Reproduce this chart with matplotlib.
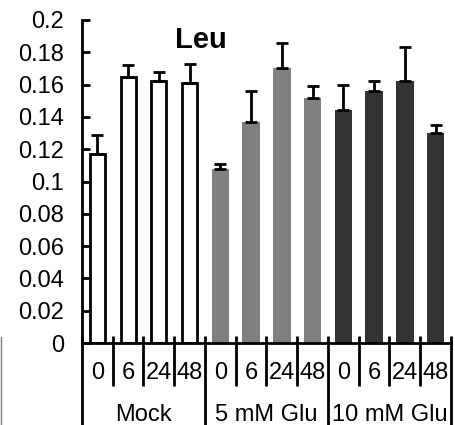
import matplotlib
matplotlib.use("Agg")
import matplotlib.pyplot as plt
from matplotlib.lines import Line2D

plt.rcParams['font.family'] = ['Liberation Sans', 'DejaVu Sans']

# Leu levels per treatment and time point (h)
groups = ['Mock', '5 mM Glu', '10 mM Glu']
hours = ['0', '6', '24', '48']
mock = [0.117, 0.165, 0.162, 0.161]
glu5 = [0.108, 0.137, 0.170, 0.152]
glu10 = [0.144, 0.156, 0.162, 0.130]
mock_err = [0.012, 0.007, 0.006, 0.012]
glu5_err = [0.003, 0.019, 0.016, 0.007]
glu10_err = [0.016, 0.006, 0.021, 0.005]
yticks = [0, 0.02, 0.04, 0.06, 0.08, 0.1, 0.12, 0.14, 0.16, 0.18, 0.2]

W, H = 456, 425
fig = plt.figure(figsize=(W / 100, H / 100), dpi=100)
ax = fig.add_axes([82 / W, (H - 343) / H, 369 / W, 323 / H])

series = [mock, glu5, glu10]
errs = [mock_err, glu5_err, glu10_err]
faces = ['white', '#808080', '#333333']
edges = ['black', 'none', 'none']
widths = [0.48, 0.575, 0.575]
n = len(hours)
lw = 2

for g in range(len(groups)):
    xs = [g * n + i for i in range(n)]
    ax.bar(xs, series[g], width=widths[g], color=faces[g],
           edgecolor=edges[g], linewidth=lw, zorder=2)
    ax.errorbar(xs, series[g], yerr=[[0] * n, errs[g]], fmt='none',
                ecolor='black', elinewidth=lw, capsize=4.3, capthick=lw,
                zorder=3)

ax.set_xlim(-0.5, len(groups) * n - 0.5)
ax.set_ylim(0, 0.2)
ax.set_yticks(yticks)
ax.set_yticklabels(['%g' % v for v in yticks])
ax.set_xticks([])
ax.tick_params(axis='y', direction='in', length=5.5, width=lw, pad=13,
               labelsize=17)
for s in ['top', 'right']:
    ax.spines[s].set_visible(False)
ax.spines['left'].set_linewidth(lw)
ax.spines['bottom'].set_linewidth(lw)

# category table under the x axis
trans = ax.get_xaxis_transform()
above = 7 / 323
short = -43 / 323
full = -82 / 323
for k in range(len(groups) * n + 1):
    xb = k - 0.5
    bottom = full if k % n == 0 else short
    ax.plot([xb, xb], [above, bottom], color='black', lw=lw,
            transform=trans, clip_on=False, solid_capstyle='butt')

for g, name in enumerate(groups):
    for i, h in enumerate(hours):
        ax.text(g * n + i, -30 / 323, h, transform=trans, ha='center',
                va='center', fontsize=17)
    ax.text(g * n + (n - 1) / 2, -72 / 323, name, transform=trans,
            ha='center', va='center', fontsize=17)

ax.text(0.3225, 0.913, 'Leu', transform=ax.transAxes, ha='center',
        va='baseline', fontsize=21, fontweight='bold')

fig.add_artist(Line2D([1 / W, 1 / W], [0, (H - 337) / H], color='#808080',
                      lw=1, transform=fig.transFigure))

fig.savefig('out.png', dpi=100)
